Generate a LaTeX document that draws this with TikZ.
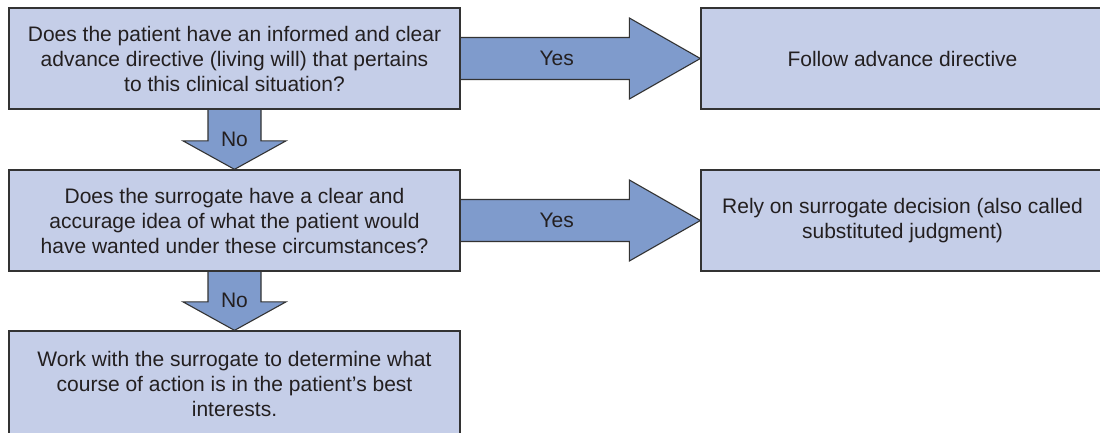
\documentclass[tikz,border=0pt]{standalone}
\usepackage{fontspec}
\setmainfont{Liberation Sans}
\usetikzlibrary{calc,backgrounds}
\definecolor{boxfill}{HTML}{C5CEE8}
\definecolor{arrowfill}{HTML}{7F9BCC}
\definecolor{edge}{HTML}{333333}
\definecolor{ink}{HTML}{231F20}
\begin{document}
\begin{tikzpicture}[x=1pt,y=-1pt,
  box/.style={draw=edge, fill=boxfill, line width=1.3pt, rectangle,
    inner sep=0pt, align=center, text=ink,
    font=\fontsize{21}{25}\selectfont},
  blockarrow/.style={draw=edge, fill=arrowfill, line width=1.1pt, line join=miter},
  lbl/.style={text=ink, font=\fontsize{21}{25}\selectfont, inner sep=0pt}]
\useasboundingbox (0,0) rectangle (1100,432);
\begin{scope}
\clip (0,0) rectangle (1100,432);

% decision and outcome boxes
\node[box, minimum width=451pt, minimum height=101pt] (q1) at (234.5,58.5)
  {Does the patient have an informed and clear\\advance directive (living will) that pertains\\to this clinical situation?};
\node[box, minimum width=403pt, minimum height=101pt] (a1) at (902.5,58.5)
  {Follow advance directive};
\node[box, minimum width=451pt, minimum height=101pt] (q2) at (234.5,220.5)
  {Does the surrogate have a clear and\\accurage idea of what the patient would\\have wanted under these circumstances?};
\node[box, minimum width=403pt, minimum height=101pt] (a2) at (902.5,220.5)
  {Rely on surrogate decision (also called\\substituted judgment)};
\node[box, minimum width=451pt, minimum height=105pt] (a3) at (234.5,383.5)
  {Work with the surrogate to determine what\\course of action is in the patient’s best\\interests.};

% block arrows, kept behind the box borders
\begin{scope}[on background layer]
\filldraw[blockarrow] ($(q1.east)+(0,-21)$) -- ($(a1.west)+(-71,-21)$)
  -- ($(a1.west)+(-71,-40.5)$) -- (a1.west) -- ($(a1.west)+(-71,40.5)$)
  -- ($(a1.west)+(-71,21)$) -- ($(q1.east)+(0,21)$);
\filldraw[blockarrow] ($(q2.east)+(0,-21)$) -- ($(a2.west)+(-71,-21)$)
  -- ($(a2.west)+(-71,-40.5)$) -- (a2.west) -- ($(a2.west)+(-71,40.5)$)
  -- ($(a2.west)+(-71,21)$) -- ($(q2.east)+(0,21)$);
\filldraw[blockarrow] ($(q1.south)+(-26.5,0)$) -- ($(q2.north)+(-26.5,-28.5)$)
  -- ($(q2.north)+(-51.5,-28.5)$) -- (q2.north) -- ($(q2.north)+(51.5,-28.5)$)
  -- ($(q2.north)+(26.5,-28.5)$) -- ($(q1.south)+(26.5,0)$);
\filldraw[blockarrow] ($(q2.south)+(-26.5,0)$) -- ($(a3.north)+(-26.5,-28.5)$)
  -- ($(a3.north)+(-51.5,-28.5)$) -- (a3.north) -- ($(a3.north)+(51.5,-28.5)$)
  -- ($(a3.north)+(26.5,-28.5)$) -- ($(q2.south)+(26.5,0)$);
\end{scope}

% arrow labels
\node[lbl] (y1) at ($(q1.east)+(96,0)$) {Yes};
\node[lbl] (y2) at ($(q2.east)+(96,0)$) {Yes};
\node[lbl] (n1) at ($(q2.north)+(0,-30)$) {No};
\node[lbl] (n2) at ($(a3.north)+(0,-30)$) {No};
\end{scope}
\end{tikzpicture}
\end{document}
